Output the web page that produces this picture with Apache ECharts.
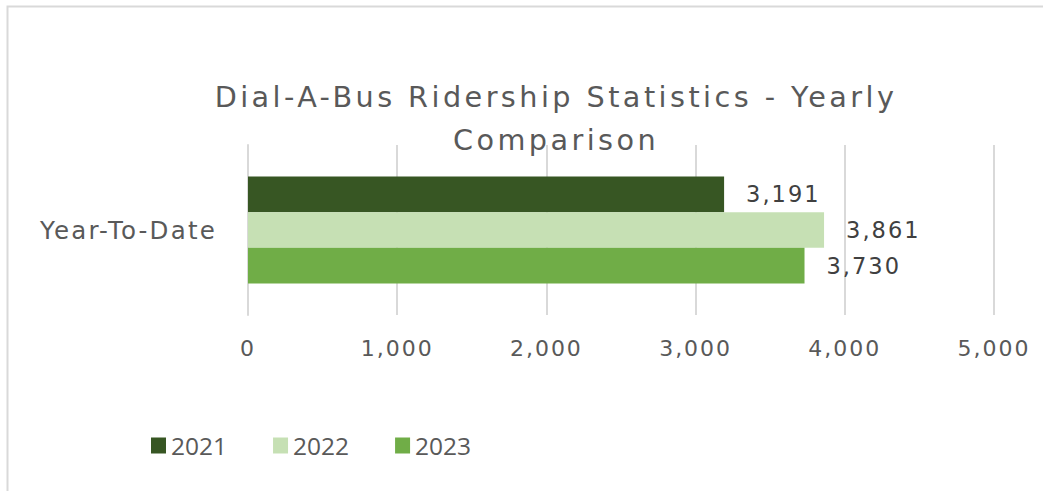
<!DOCTYPE html>
<html>
<head>
<meta charset="utf-8">
<script src="https://cdn.jsdelivr.net/npm/echarts@6/dist/echarts.min.js"></script>
<style>
  html, body { margin: 0; padding: 0; background: #fff; }
  #chart1 { width: 1043px; height: 491px; }
  /* the original text is set wide, so space the letters out a bit */
  #chart1 text[style*="Verdana"] { letter-spacing: 0.12em; }
  #chart1 text[style*="sans-serif"] { letter-spacing: 0.09em; }
</style>
</head>
<body>
<div id="chart1"></div>
<script>
const categories = ['Year-To-Date'];
const seriesNames = ['2021', '2022', '2023'];
const values2021 = [3191];
const values2022 = [3861];
const values2023 = [3730];
const xTicks = [0, 1000, 2000, 3000, 4000, 5000];
const seriesColors = ['#375623', '#C6E0B4', '#70AD47'];

const titleFont = 'DejaVu Sans, Verdana';
const labelFont = 'DejaVu Sans, sans-serif';
const legendFont = 'Open Sans';
const fmt = (v) => v.toLocaleString('en-US');

let chart1;

function makeSeries(name, data, color) {
    return {
        name: name,
        type: 'bar',
        data: data,
        barGap: '0%',
        barCategoryGap: '37%',
        itemStyle: { color: color },
        label: {
            show: true,
            position: 'right',
            distance: 22,
            color: '#404040',
            fontSize: 22.5,
            fontFamily: labelFont,
            formatter: (p) => fmt(p.value)
        }
    };
}

function initCharts() {
    chart1 = echarts.init(document.getElementById('chart1'), null, { renderer: 'svg' });
    let option = {
        animation: false,
        title: {
            text: 'Dial-A-Bus Ridership Statistics - Yearly\nComparison',
            left: 551,
            textAlign: 'center',
            top: 70,
            textStyle: {
                color: '#595959',
                fontSize: 28.7,
                fontWeight: 'normal',
                fontFamily: titleFont,
                lineHeight: 43
            }
        },
        legend: {
            top: 433,
            left: 151,
            padding: 0,
            icon: 'rect',
            itemWidth: 15,
            itemHeight: 16,
            itemGap: 46,
            textStyle: { color: '#595959', fontSize: 24.5, lineHeight: 25, fontFamily: legendFont },
            data: seriesNames
        },
        grid: { left: 248, right: 49, top: 145, bottom: 176, containLabel: false },
        xAxis: {
            type: 'value',
            min: xTicks[0],
            max: xTicks[xTicks.length - 1],
            interval: xTicks[1] - xTicks[0],
            axisLine: { show: false },
            axisTick: { show: false },
            splitLine: { lineStyle: { color: '#d9d9d9', width: 2 } },
            axisLabel: {
                color: '#595959',
                fontSize: 22,
                fontFamily: labelFont,
                margin: 22,
                formatter: (v) => fmt(v)
            }
        },
        yAxis: {
            type: 'category',
            data: categories,
            inverse: true,
            axisLine: { show: true, lineStyle: { color: '#d9d9d9', width: 2 } },
            axisTick: { show: false },
            axisLabel: { color: '#595959', fontSize: 24.5, fontFamily: labelFont, margin: 31 }
        },
        graphic: [{
            type: 'rect',
            shape: { x: 7.5, y: 6.5, width: 1100, height: 600 },
            style: { fill: 'none', stroke: '#d9d9d9', lineWidth: 2 },
            silent: true
        }],
        series: [
            makeSeries(seriesNames[0], values2021, seriesColors[0]),
            makeSeries(seriesNames[1], values2022, seriesColors[1]),
            makeSeries(seriesNames[2], values2023, seriesColors[2])
        ]
    };
    chart1.setOption(option);
}

document.addEventListener('DOMContentLoaded', initCharts);
</script>
</body>
</html>
